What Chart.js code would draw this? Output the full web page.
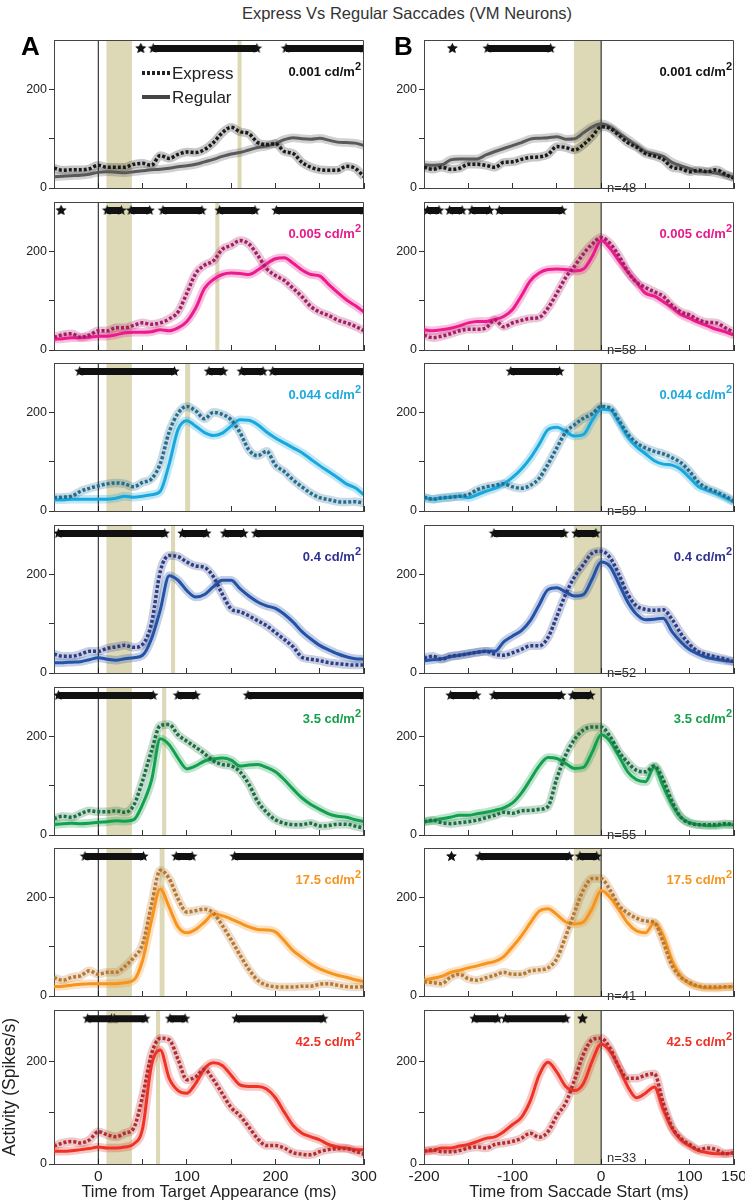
<!DOCTYPE html>
<html>
<head>
<meta charset="utf-8">
<script src="https://cdn.jsdelivr.net/npm/chart.js@4.4.1/dist/chart.umd.min.js"></script>
<style>
  body { margin: 0; background: #fff; width: 745px; height: 1204px; position: relative; overflow: hidden; font-family: 'Liberation Sans', Arial, sans-serif; }
  canvas { position: absolute; }
  .t { position: absolute; white-space: nowrap; line-height: 1; color: #222; }
</style>
</head>
<body>
<script>
// time bases (ms)
const timeA = [-50,-40,-30,-20,-10,0,10,20,30,40,50,60,70,80,90,100,110,120,130,140,150,160,170,180,190,200,210,220,230,240,250,260,270,280,290,300];
const timeB = [-200,-190,-180,-170,-160,-150,-140,-130,-120,-110,-100,-90,-80,-70,-60,-50,-40,-30,-20,-10,0,10,20,30,40,50,60,70,80,90,100,110,120,130,140,150];

const tickA = [-50,0,50,100,150,200,250,300];
const tickLabA = [0,100,200,300];
const tickB = [-200,-150,-100,-50,0,50,100,150];
const tickLabB = [-200,-100,0,100,150];
const yTicks = [0,100,200];
const yTickLab = [0,200];

const luminance = ['0.001','0.005','0.044','0.4','3.5','17.5','42.5'];
const nCells = [48,58,59,52,55,41,33];

// column A: aligned on target appearance
const regA1 = [23,24,25,26,28,32,33,32,31,33,35,37,38,40,43,45,48,53,58,64,69,72,77,82,85,90,98,102,100,99,101,97,93,92,91,86];
const expA1 = [40,36,37,37,39,46,42,42,42,48,50,46,66,60,68,73,72,78,92,112,123,114,110,92,88,90,74,70,52,42,37,36,36,44,40,23];
const regA2 = [22,23,25,25,26,28,28,31,35,36,36,37,41,39,45,58,85,125,143,153,156,155,153,162,175,185,187,176,162,153,150,133,117,102,90,77];
const expA2 = [26,31,33,26,30,39,39,45,45,50,55,52,55,63,77,115,155,172,181,204,212,222,215,192,165,151,141,125,108,88,77,70,61,55,48,39];
const regA3 = [23,23,24,24,24,24,24,26,30,28,30,33,40,95,165,183,172,159,153,158,172,185,184,175,160,148,138,128,118,105,92,80,68,55,47,33];
const expA3 = [27,28,30,40,46,51,55,57,55,49,58,65,96,160,198,212,203,187,200,196,185,159,124,112,121,93,80,63,49,36,27,23,19,18,19,16];
const regA4 = [21,21,22,23,27,31,28,26,29,31,36,69,128,197,188,167,154,159,175,188,188,171,156,144,136,131,119,103,84,69,56,47,39,33,29,28];
const expA4 = [38,34,34,38,44,44,50,53,56,52,58,100,206,238,236,225,217,214,195,160,130,124,116,106,96,82,68,53,32,28,25,21,19,17,16,16];
const regA5 = [21,23,24,23,24,26,27,29,28,31,62,110,195,183,156,134,140,150,154,156,152,140,142,143,137,128,112,93,75,62,52,43,38,36,31,27];
const expA5 = [33,38,36,43,49,47,47,49,46,60,110,170,222,224,203,190,178,165,150,143,140,128,103,68,46,31,24,21,21,24,18,19,22,22,18,14];
const regA6 = [19,20,22,24,25,25,25,25,27,32,72,152,217,180,140,128,135,150,166,163,156,148,140,135,134,130,112,92,78,65,55,48,42,38,33,29];
const expA6 = [37,32,38,41,51,44,48,48,60,78,105,185,255,238,197,170,173,176,168,143,114,83,54,32,22,19,18,18,20,20,24,25,22,19,18,19];
const regA7 = [25,25,26,28,30,33,31,31,33,39,69,192,222,167,143,138,157,186,197,192,173,154,151,151,146,129,101,75,60,53,47,38,33,31,28,28];
const expA7 = [35,41,44,41,47,63,57,53,60,70,132,214,245,242,204,164,170,184,164,137,110,94,72,49,36,36,31,22,19,18,24,28,30,30,25,19];

// column B: aligned on saccade start
const regB1 = [47,46,47,57,59,59,59,67,74,80,86,92,99,101,102,104,99,100,112,124,130,124,111,99,86,74,69,64,52,45,39,33,33,30,26,22];
const expB1 = [42,38,42,38,40,48,48,46,42,52,53,58,62,63,68,84,82,77,88,105,124,121,107,92,83,70,65,58,42,39,33,36,33,37,28,20];
const regB2 = [41,39,41,44,49,55,58,58,62,68,82,110,140,156,163,164,163,160,164,190,222,206,181,158,137,115,109,98,86,72,64,56,49,42,37,30];
const expB2 = [30,25,28,33,39,42,42,45,61,47,55,60,64,66,85,115,147,170,195,215,228,216,191,159,137,127,118,109,90,77,71,61,56,55,45,36];
const regB3 = [26,24,26,28,30,27,33,40,46,55,68,85,107,135,165,170,161,152,155,184,206,205,180,150,130,116,102,95,93,84,67,49,42,35,27,18];
const expB3 = [28,24,27,28,30,33,43,49,52,55,49,46,52,66,95,128,160,175,188,197,212,209,184,156,138,128,121,116,108,98,80,58,46,39,30,20];
const regB4 = [25,27,29,33,36,39,42,44,44,63,75,86,106,138,169,173,164,156,159,191,225,216,181,144,119,108,109,111,84,63,47,38,31,28,25,23];
const expB4 = [31,34,28,34,36,39,42,44,38,36,41,48,55,55,72,115,160,195,220,243,247,234,200,160,136,129,127,128,109,80,58,43,37,32,28,23];
const regB5 = [27,29,33,36,40,40,43,46,50,55,65,85,112,140,157,155,145,135,137,168,203,190,160,128,112,108,138,99,62,36,25,21,19,19,21,21];
const expB5 = [27,30,25,23,25,27,30,35,40,46,44,49,50,52,58,115,162,194,213,219,219,200,169,147,131,128,140,112,68,36,24,21,21,21,23,21];
const regB6 = [32,36,40,48,52,57,61,66,70,80,100,122,148,172,177,165,150,146,150,178,214,200,175,148,132,128,148,122,72,40,25,19,16,16,18,19];
const expB6 = [29,27,25,38,44,35,32,37,42,48,44,44,51,53,57,76,121,170,215,238,238,215,184,168,158,152,149,110,62,38,27,20,18,18,19,19];
const regB7 = [25,26,31,31,35,38,44,50,53,63,77,91,123,173,198,179,151,143,157,201,234,220,189,151,129,138,150,107,69,47,35,26,22,20,20,22];
const expB7 = [25,28,24,24,26,31,33,31,38,41,44,50,60,52,63,94,119,164,214,242,245,226,189,167,167,173,176,119,72,50,38,28,31,28,20,22];

// significant differences (start, end in ms)
const sigA = [
  [[48,48],[62,179],[212,300]],
  [[-42,-42],[10,26],[37,58],[73,117],[137,177],[201,300]],
  [[-21,86],[125,141],[162,186],[197,300]],
  [[-45,75],[95,122],[143,164],[178,300]],
  [[-45,62],[90,110],[169,300]],
  [[-15,51],[88,106],[154,300]],
  [[-12,15],[18,53],[81,98],[156,254]]
];
const sigB = [
  [[-168,-168],[-128,-57]],
  [[-196,-183],[-171,-157],[-146,-126],[-115,-44]],
  [[-102,-47]],
  [[-121,-42],[-28,-6]],
  [[-170,-141],[-121,-45],[-32,-12]],
  [[-169,-169],[-137,-36],[-24,-5]],
  [[-143,-117],[-108,-40],[-21,-21]]
];

// shaded epochs
const wideBandA = [9,38];
const narrowBandA = [[157,162],[132,137],[98,104],[82,87],[72,77],[69,75],[65,70]];
const bandB = [-31,0];

const regA = [regA1,regA2,regA3,regA4,regA5,regA6,regA7];
const expA = [expA1,expA2,expA3,expA4,expA5,expA6,expA7];
const regB = [regB1,regB2,regB3,regB4,regB5,regB6,regB7];
const expB = [expB1,expB2,expB3,expB4,expB5,expB6,expB7];

const regColor = ['#595959','#ec1a8d','#18a8de','#2352a6','#12a04e','#f7941d','#ee3326'];
const expColor = ['#1a1a1a','#a51d64','#246d8e','#2c3f86','#1c7040','#b8782f','#b52b2e'];
const labColor = ['#111111','#e8198b','#1da9de','#2e3192','#15a04a','#f7941d','#ee3124'];

const FONT = "'Liberation Sans', Arial, sans-serif";
const SIG_Y = 283;
const BAND = '#ddd8b6';
const rowTop = [35,197,358,520,682,843,1005];
const PANEL_H = 159;

Chart.defaults.font.family = FONT;

function alpha(hex, a) {
  const n = parseInt(hex.slice(1), 16);
  return `rgba(${n >> 16},${(n >> 8) & 255},${n & 255},${a})`;
}

// filled star used as point style for the significance bars
const star = (function () {
  const r = 5.5, c = document.createElement('canvas');
  c.width = c.height = 13;
  const g = c.getContext('2d');
  g.translate(6.5, 6.5);
  g.beginPath();
  for (let i = 0; i < 10; i++) {
    const rad = i % 2 ? r * 0.45 : r;
    const a = -Math.PI / 2 + i * Math.PI / 5;
    g.lineTo(rad * Math.cos(a), rad * Math.sin(a));
  }
  g.closePath();
  g.fillStyle = '#111';
  g.fill();
  return c;
})();

const framePlugin = {
  id: 'frame',
  afterDatasetsDraw(chart) {
    const { ctx, chartArea: a } = chart;
    const t = Math.round(a.top) + 0.5, r = Math.round(a.right) - 0.5;
    ctx.save();
    ctx.strokeStyle = '#444';
    ctx.lineWidth = 1;
    ctx.beginPath();
    ctx.moveTo(a.left, t);
    ctx.lineTo(r, t);
    ctx.lineTo(r, a.bottom);
    ctx.stroke();
    ctx.restore();
  }
};

function pts(times, vals) {
  return times.map((t, i) => ({ x: t, y: vals[i] }));
}

function bandData(range) {
  return [{ x: range[0], y: 300 }, { x: range[1], y: 300 }];
}

function makePanel(col, r) {
  const isA = col === 'A';
  const last = r === 6;
  const padTop = 6;
  const xh = last ? 38 : 5;
  const left = isA ? 0 : 372;
  const width = isA ? 390 : 373;

  const cv = document.createElement('canvas');
  cv.width = width;
  cv.height = padTop + PANEL_H + xh;
  cv.style.left = left + 'px';
  cv.style.top = (rowTop[r] - padTop) + 'px';
  document.body.appendChild(cv);

  const times = isA ? timeA : timeB;
  const reg = (isA ? regA : regB)[r];
  const exp = (isA ? expA : expB)[r];

  const sigPts = [];
  (isA ? sigA : sigB)[r].forEach(([a, b]) => {
    sigPts.push({ x: a, y: SIG_Y }, { x: b, y: SIG_Y }, { x: b + 0.5, y: null });
  });

  const curve = { pointRadius: 0, cubicInterpolationMode: 'monotone', fill: false };

  const datasets = [
    { data: sigPts, borderColor: '#111', borderWidth: 7, borderCapStyle: 'butt',
      pointStyle: star, pointRadius: 3, fill: false },
    Object.assign({ data: pts(times, exp), borderColor: expColor[r], borderWidth: 3.5, borderDash: [3, 2] }, curve),
    Object.assign({ data: pts(times, reg), borderColor: regColor[r], borderWidth: 3 }, curve),
    { data: [{ x: 0, y: 0 }, { x: 0, y: 300 }], borderColor: '#111', borderWidth: 1, pointRadius: 0, fill: false },
    Object.assign({ data: pts(times, exp), borderColor: alpha(expColor[r], 0.25), borderWidth: 8.5 }, curve),
    Object.assign({ data: pts(times, reg), borderColor: alpha(regColor[r], 0.28), borderWidth: 8.5 }, curve)
  ];
  if (isA) {
    datasets.push({ data: bandData(narrowBandA[r]), borderWidth: 0, pointRadius: 0, fill: 'origin', backgroundColor: BAND });
    datasets.push({ data: bandData(wideBandA), borderWidth: 0, pointRadius: 0, fill: 'origin', backgroundColor: BAND });
  } else {
    datasets.push({ data: bandData(bandB), borderWidth: 0, pointRadius: 0, fill: 'origin', backgroundColor: BAND });
  }

  new Chart(cv, {
    type: 'line',
    data: { datasets },
    options: {
      responsive: false,
      animation: false,
      devicePixelRatio: 1,
      events: [],
      layout: { padding: { top: padTop, right: isA ? 26 : 10, left: 0, bottom: 0 } },
      plugins: { legend: { display: false }, tooltip: { enabled: false } },
      scales: {
        x: {
          type: 'linear',
          min: isA ? -50 : -200,
          max: isA ? 300 : 150,
          afterBuildTicks: s => { s.ticks = (isA ? tickA : tickB).map(v => ({ value: v })); },
          afterFit: s => { s.height = xh; s.paddingLeft = 0; s.paddingRight = 0; },
          grid: { drawOnChartArea: false, tickLength: -5, tickColor: '#333' },
          border: { color: '#444', width: 1 },
          ticks: {
            display: last, padding: 8, maxRotation: 0, autoSkip: false,
            font: { size: 15.5 }, color: '#222',
            callback: v => (isA ? tickLabA : tickLabB).includes(v) ? String(v) : ''
          },
          title: {
            display: last,
            text: isA ? 'Time from Target Appearance (ms)' : 'Time from Saccade Start (ms)',
            font: { size: 16.5 }, color: '#222', padding: { top: 0, bottom: 0 }
          }
        },
        y: {
          min: 0,
          max: 300,
          afterBuildTicks: s => { s.ticks = yTicks.map(v => ({ value: v })); },
          afterFit: s => { s.width = isA ? 54 : 52; s.paddingTop = 0; s.paddingBottom = 0; },
          grid: { drawOnChartArea: false, tickLength: 5, tickColor: '#333' },
          border: { color: '#444', width: 1 },
          ticks: {
            padding: 2, font: { size: 12.5 }, color: '#222',
            callback: v => yTickLab.includes(v) ? String(v) : ''
          },
          title: {
            display: last && isA, text: 'Activity (Spikes/s)',
            font: { size: 17.5 }, color: '#222', padding: { top: 0, bottom: 0 }
          }
        }
      }
    },
    plugins: [framePlugin]
  });
}

for (let r = 0; r < 7; r++) {
  makePanel('A', r);
  makePanel('B', r);
}

// text overlays
function addText(html, css) {
  const d = document.createElement('div');
  d.className = 't';
  d.innerHTML = html;
  Object.assign(d.style, css);
  document.body.appendChild(d);
  return d;
}

addText('Express Vs Regular Saccades (VM Neurons)', { left: '0px', width: '814px', textAlign: 'center', top: '5px', fontSize: '16.5px', color: '#333' });
addText('A', { left: '21px', top: '33px', fontSize: '26px', fontWeight: 'bold', color: '#000' });
addText('B', { left: '394px', top: '33px', fontSize: '26px', fontWeight: 'bold', color: '#000' });

// legend
addText('', { left: '142px', top: '71px', width: '28px', height: '4px',
  background: 'repeating-linear-gradient(90deg,#222 0 3px,transparent 3px 5px)' });
addText('Express', { left: '172px', top: '65px', fontSize: '17px' });
addText('', { left: '142px', top: '95px', width: '28px', height: '4px', background: '#444' });
addText('Regular', { left: '172px', top: '89px', fontSize: '17px' });

for (let r = 0; r < 7; r++) {
  const base = rowTop[r] + 41;
  const lab = luminance[r] + ' cd/m<span style="font-size:11px;position:relative;top:-6px">2</span>';
  addText(lab, { left: '0px', width: '361px', textAlign: 'right', top: (base - 11) + 'px', fontSize: '13px', fontWeight: 'bold', color: labColor[r] });
  addText(lab, { left: '0px', width: '732px', textAlign: 'right', top: (base - 11) + 'px', fontSize: '13px', fontWeight: 'bold', color: labColor[r] });
  addText('n=' + nCells[r], { left: '607px', top: (rowTop[r] + PANEL_H - 2.5 - 11) + 'px', fontSize: '13px', color: '#333' });
}
</script>
</body>
</html>
